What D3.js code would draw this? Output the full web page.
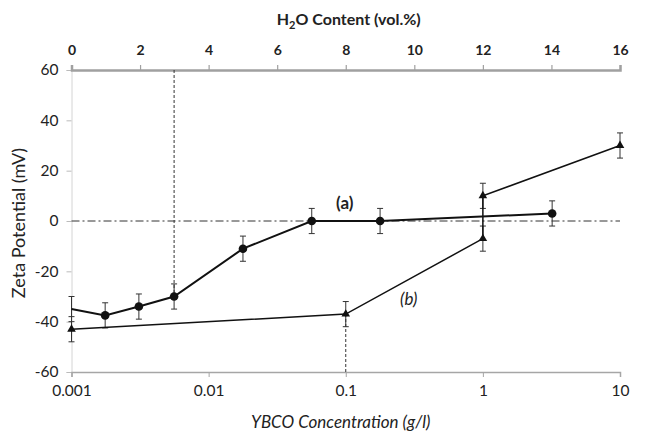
<!DOCTYPE html>
<html>
<head>
<meta charset="utf-8">
<script src="https://cdn.jsdelivr.net/npm/d3@7"></script>
<style>
  body { margin: 0; background: #fff; }
  text { font-family: Lato, "Open Sans", sans-serif; fill: #222; }
</style>
</head>
<body>
<script>
// series (a): circles, series (b): triangles, error +/- 5 mV
var concA = [0.001, 0.00176, 0.0031, 0.0056, 0.0178, 0.0565, 0.178, 3.2];
var zetaA = [-35, -37.5, -34, -30, -11, 0, 0, 3];
var concB = [0.001, 0.1, 1, 1, 10];
var zetaB = [-43, -37, -7, 10, 30];
var errA = [5, 5, 5, 5, 5, 5, 5, 5];
var errB = [5, 5, 5, 5, 5];

var yTicks = [60, 40, 20, 0, -20, -40, -60];
var xTicks = [0.001, 0.01, 0.1, 1, 10];
var xTickLabels = ["0.001", "0.01", "0.1", "1", "10"];
var waterTicks = [0, 2, 4, 6, 8, 10, 12, 14, 16];

var margin = {top: 70, right: 26, bottom: 59, left: 71.5},
    width = 646 - margin.left - margin.right,
    height = 431 - margin.top - margin.bottom;

var x  = d3.scaleLog().domain([0.001, 10]).range([0, width]);
var xw = d3.scaleLinear().domain([0, 16]).range([0, width]);
var y  = d3.scaleLinear().domain([-60, 60]).range([height, 0]);

var svg = d3.select("body").append("svg")
    .attr("width", 646)
    .attr("height", 431)
  .append("g")
    .attr("transform", "translate(" + margin.left + "," + margin.top + ")");

var dataA = concA.map(function(c, i) { return {c: c, v: zetaA[i], e: errA[i]}; });
var dataB = concB.map(function(c, i) { return {c: c, v: zetaB[i], e: errB[i]}; });

// left axis
var yAxis = svg.append("g")
    .call(d3.axisLeft(y).tickValues(yTicks).tickFormat(function(d) { return String(d); })
      .tickSize(5).tickPadding(8));
yAxis.select(".domain").attr("stroke", "#d4d4d4");
yAxis.selectAll(".tick line").attr("stroke", "#bbb");
yAxis.selectAll("text").style("font-size", "15.5px").attr("fill", "#222");

// bottom axis
var xAxis = svg.append("g")
    .attr("transform", "translate(0," + height + ")")
    .call(d3.axisBottom(x).tickValues(xTicks)
      .tickFormat(function(d, i) { return xTickLabels[i]; })
      .tickSizeOuter(5).tickSize(5).tickPadding(8));
xAxis.select(".domain").attr("stroke", "#a6a6a6").attr("stroke-width", 1.5);
xAxis.selectAll(".tick line").attr("stroke", "#a6a6a6");
xAxis.selectAll("text").style("font-size", "15.5px").attr("fill", "#222");

// top axis (water content)
var wAxis = svg.append("g")
    .call(d3.axisTop(xw).tickValues(waterTicks).tickSize(5).tickPadding(10));
wAxis.select(".domain").attr("stroke", "#a0a0a0").attr("stroke-width", 2.5);
wAxis.selectAll(".tick line").attr("stroke", "#a0a0a0").attr("stroke-width", 1.2);
wAxis.selectAll("text").style("font-size", "14px").style("font-weight", "bold").attr("fill", "#222");

// zero dash-dot line
svg.append("line")
    .attr("x1", 0).attr("x2", width)
    .attr("y1", y(0)).attr("y2", y(0))
    .attr("stroke", "#333").attr("stroke-width", 1)
    .attr("stroke-dasharray", "8,3,2,3");

// dashed guides
svg.append("line")
    .attr("x1", x(concA[3])).attr("x2", x(concA[3]))
    .attr("y1", y(60)).attr("y2", y(zetaA[3]))
    .attr("stroke", "#333").attr("stroke-width", 1)
    .attr("stroke-dasharray", "3,2");
svg.append("line")
    .attr("x1", x(concB[1])).attr("x2", x(concB[1]))
    .attr("y1", y(-60)).attr("y2", y(zetaB[1]))
    .attr("stroke", "#333").attr("stroke-width", 1)
    .attr("stroke-dasharray", "3,2");

var line = d3.line()
    .x(function(d) { return x(d.c); })
    .y(function(d) { return y(d.v); });

function errorBars(data) {
  var g = svg.append("g").attr("stroke", "#333").attr("stroke-width", 1);
  g.selectAll(".eb").data(data).enter().append("path")
    .attr("fill", "none")
    .attr("d", function(d) {
      var cx = x(d.c), t = y(d.v + d.e), b = y(d.v - d.e);
      return "M" + cx + "," + t + "V" + b +
             "M" + (cx - 3) + "," + t + "H" + (cx + 3) +
             "M" + (cx - 3) + "," + b + "H" + (cx + 3);
    });
}

errorBars(dataA);
errorBars(dataB);

svg.append("path")
    .datum(dataB)
    .attr("fill", "none")
    .attr("stroke", "#111")
    .attr("stroke-width", 1.5)
    .attr("d", line);

svg.append("path")
    .datum(dataA)
    .attr("fill", "none")
    .attr("stroke", "#111")
    .attr("stroke-width", 2)
    .attr("d", line);

svg.selectAll(".dotA")
  .data(dataA.slice(1))
  .enter().append("circle")
    .attr("cx", function(d) { return x(d.c); })
    .attr("cy", function(d) { return y(d.v); })
    .attr("r", 4.3)
    .attr("fill", "#111");

svg.selectAll(".triB")
  .data(dataB)
  .enter().append("path")
    .attr("transform", function(d) { return "translate(" + x(d.c) + "," + y(d.v) + ")"; })
    .attr("d", d3.symbol().type(d3.symbolTriangle).size(32))
    .attr("fill", "#111");

// series labels
svg.append("text")
    .attr("x", x(0.0565) + 33).attr("y", y(0) - 12)
    .attr("text-anchor", "middle")
    .style("font-size", "17px").style("font-weight", "bold")
    .text("(a)");
svg.append("text")
    .attr("x", x(0.1) + 63).attr("y", y(-30) + 8)
    .attr("text-anchor", "middle")
    .style("font-size", "17px").style("font-style", "italic")
    .text("(b)");

// axis titles
var topTitle = svg.append("text")
    .attr("x", width / 2 + 3).attr("y", -45)
    .attr("text-anchor", "middle")
    .style("font-size", "16px").style("font-weight", "bold");
topTitle.append("tspan").text("H");
topTitle.append("tspan").attr("dy", 4).style("font-size", "11px").text("2");
topTitle.append("tspan").attr("dy", -4).text("O Content (vol.%)");

svg.append("text")
    .attr("x", width / 2 - 5).attr("y", height + 56)
    .attr("text-anchor", "middle")
    .style("font-size", "17px").style("font-style", "italic")
    .text("YBCO Concentration (g/l)");

svg.append("text")
    .attr("transform", "translate(" + (-47) + "," + (height / 2 + 2) + ") rotate(-90)")
    .attr("text-anchor", "middle")
    .style("font-size", "18px")
    .text("Zeta Potential (mV)");
</script>
</body>
</html>
